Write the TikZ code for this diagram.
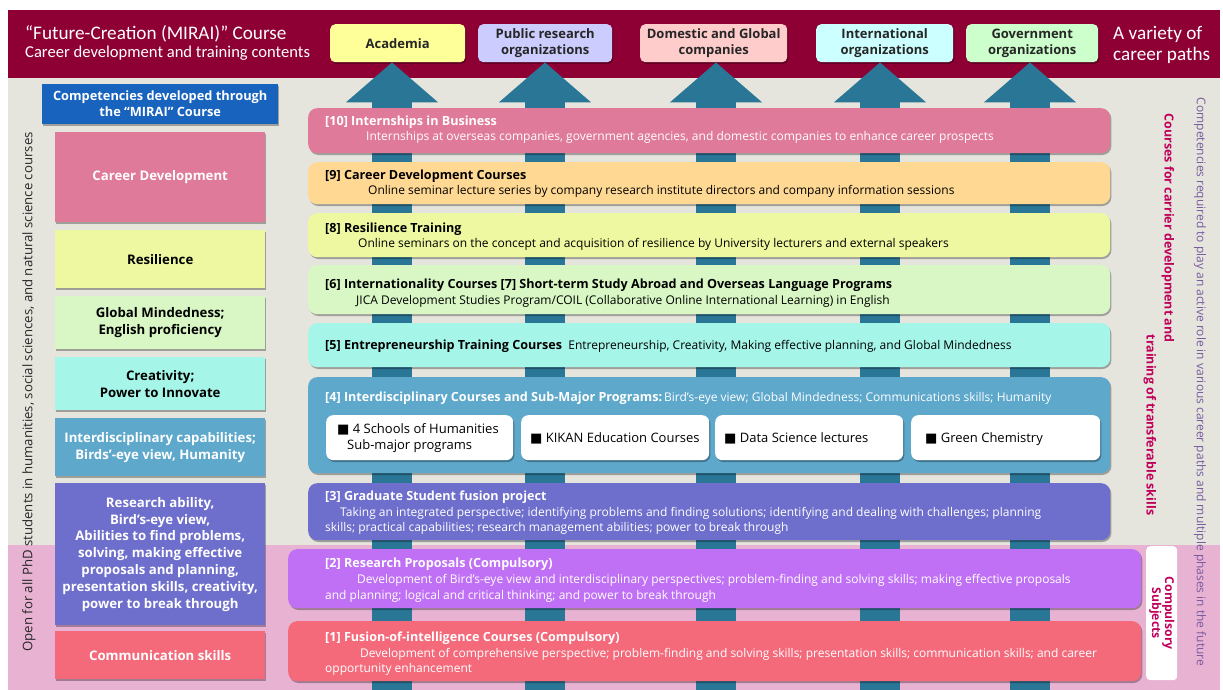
\documentclass[tikz,border=0pt]{standalone}
\usepackage{fontspec}
\setmainfont{Open Sans}
\newfontfamily\calfont{Carlito}
\newfontfamily\symfont{DejaVu Sans}
\usetikzlibrary{arrows.meta,shadows}
\definecolor{banner}{RGB}{142,0,52}
\definecolor{bggray}{RGB}{229,229,221}
\definecolor{bgpink}{RGB}{232,178,210}
\definecolor{arrowteal}{RGB}{42,118,150}
\definecolor{hdrblue}{RGB}{23,99,190}
\definecolor{cpink}{RGB}{224,122,154}
\definecolor{corange}{RGB}{255,217,147}
\definecolor{cyellow}{RGB}{238,248,160}
\definecolor{cgreen}{RGB}{216,247,196}
\definecolor{ccyan}{RGB}{165,245,232}
\definecolor{cblue}{RGB}{94,168,204}
\definecolor{cviolet}{RGB}{110,110,204}
\definecolor{cpurple}{RGB}{192,112,245}
\definecolor{cred}{RGB}{244,106,123}
\definecolor{kacad}{RGB}{255,255,153}
\definecolor{kpub}{RGB}{204,204,255}
\definecolor{kdom}{RGB}{255,204,204}
\definecolor{kint}{RGB}{204,255,255}
\definecolor{kgov}{RGB}{204,255,204}
\definecolor{magtext}{RGB}{192,0,90}
\definecolor{purtext}{RGB}{120,90,160}
\definecolor{darktext}{RGB}{40,40,40}
\newcommand\pbox[7]{\node[#6, anchor=north west, minimum width={(#4-#2)*1pt}, minimum height={(#5-#3)*1pt}, inner sep=0pt] (#1) at (#2,#3) {#7};}
\newcommand\sq{{\symfont\char"25A0}}
\begin{document}
\begin{tikzpicture}[x=1pt,y=-1pt,
  shad/.style={drop shadow={shadow xshift=1.2pt,shadow yshift=-1.8pt,opacity=0.3,fill=black}},
  career/.style={fill=#1, rounded corners=5pt, shad, font=\fontsize{13}{16}\selectfont\bfseries, text=black!85, align=center},
  leftbox/.style={fill=#1, shad, align=center, font=\fontsize{13.2}{16.8}\selectfont\bfseries},
  course/.style={fill=#1, rounded corners=9pt, shad},
  subbox/.style={fill=white, rounded corners=7pt, shad},
  ctext/.style={anchor=base west, inner sep=0pt, font=\fontsize{12}{14}\selectfont},
  chead/.style={anchor=base west, inner sep=0pt, font=\fontsize{12.6}{14}\selectfont\bfseries},
  stext/.style={anchor=base west, inner sep=0pt, font=\fontsize{13}{15}\selectfont},
  arr/.style={draw=arrowteal, line width=40pt, -{Triangle[length=40pt,width=90pt]}},
]
\useasboundingbox (0,0) rectangle (1223,690);
\fill[white] (0,0) rectangle (1223,690);
\fill[bggray] (8,78) rectangle (1220,545);
\fill[bgpink] (8,545) rectangle (1220,690);
\fill[banner] (8,10) rectangle (1220,78);

% banner texts
\node[anchor=base west, inner sep=0pt, text=white, font=\calfont\fontsize{19.2}{22}\selectfont] (title1) at (25,40) {“Future-Creation (MIRAI)” Course};
\node[anchor=base west, inner sep=0pt, text=white, font=\calfont\fontsize{16.6}{19}\selectfont] (title2) at (25,58) {Career development and training contents};
\node[anchor=base west, inner sep=0pt, text=white, font=\calfont\fontsize{19.2}{22}\selectfont] (var1) at (1113,40) {A variety of};
\node[anchor=base west, inner sep=0pt, text=white, font=\calfont\fontsize{19.2}{22}\selectfont] (var2) at (1113,61) {career paths};

% career boxes
\pbox{acad}{330}{24}{465}{62}{career=kacad}{Academia}
\pbox{pub}{478}{24}{612}{62}{career=kpub}{Public research\\organizations}
\pbox{dom}{640}{24}{787}{62}{career=kdom}{Domestic and Global\\companies}
\pbox{intl}{816}{24}{953}{62}{career=kint}{International\\organizations}
\pbox{gov}{966}{24}{1098}{62}{career=kgov}{Government\\organizations}

% arrows
\coordinate (a1) at (392,690);
\coordinate (a2) at (545,690);
\coordinate (a3) at (716,690);
\coordinate (a4) at (880,690);
\coordinate (a5) at (1030,690);
\draw[arr] (a1) -- (a1 |- acad.south);
\draw[arr] (a2) -- (a2 |- pub.south);
\draw[arr] (a3) -- (a3 |- dom.south);
\draw[arr] (a4) -- (a4 |- intl.south);
\draw[arr] (a5) -- (a5 |- gov.south);

% left column
\pbox{hdr}{42}{84}{278}{124}{fill=hdrblue, shad, align=center, text=white, font=\fontsize{12.8}{16}\selectfont\bfseries}{Competencies developed through\\the “MIRAI” Course}
\pbox{lcd}{55}{132}{265}{222}{leftbox=cpink, text=white}{Career Development}
\pbox{lres}{55}{230}{265}{288}{leftbox=cyellow, text=black}{Resilience}
\pbox{lglob}{55}{296}{265}{349}{leftbox=cgreen, text=black}{Global Mindedness;\\English proficiency}
\pbox{lcrea}{55}{357}{265}{410}{leftbox=ccyan, text=black}{Creativity;\\Power to Innovate}
\pbox{linter}{55}{418}{265}{476}{leftbox=cblue, text=white}{Interdisciplinary capabilities;\\Birds’-eye view, Humanity}
\pbox{lresch}{55}{483}{265}{625}{leftbox=cviolet, text=white}{Research ability,\\Bird’s-eye view,\\Abilities to find problems,\\solving, making effective\\proposals and planning,\\presentation skills, creativity,\\power to break through}
\pbox{lcomm}{55}{631}{265}{679}{leftbox=cred, text=white}{Communication skills}
\node[rotate=90, text=darktext, font=\fontsize{13.2}{15}\selectfont] (openall) at (29,392) {Open for all PhD students in humanities, social sciences, and natural science courses};

% course boxes
\pbox{c10}{308}{108}{1110}{153}{course=cpink}{}
\pbox{c9}{308}{162}{1110}{204}{course=corange}{}
\pbox{c8}{308}{213}{1110}{257}{course=cyellow}{}
\pbox{c6}{308}{265}{1110}{314}{course=cgreen}{}
\pbox{c5}{308}{323}{1110}{367}{course=ccyan}{}
\pbox{c4}{308}{377}{1110}{473}{course=cblue}{}
\pbox{c3}{308}{483}{1110}{540}{course=cviolet}{}
\pbox{c2}{288}{549}{1141}{608}{course=cpurple}{}
\pbox{c1}{288}{621}{1141}{681}{course=cred}{}

\pbox{s1}{326}{415}{513}{460}{subbox}{}
\pbox{s2}{521}{415}{709}{460}{subbox}{}
\pbox{s3}{715}{415}{903}{460}{subbox}{}
\pbox{s4}{911}{415}{1100}{460}{subbox}{}

% course texts
\node[chead, text=white] (t10h) at (325,125) {[10] Internships in Business};
\node[ctext, text=white] (t10d) at (366,140) {Internships at overseas companies, government agencies, and domestic companies to enhance career prospects};
\node[chead] (t9h) at (325,179) {[9] Career Development Courses};
\node[ctext] (t9d) at (368,194) {Online seminar lecture series by company research institute directors and company information sessions};
\node[chead] (t8h) at (325,232) {[8] Resilience Training};
\node[ctext] (t8d) at (358,247) {Online seminars on the concept and acquisition of resilience by University lecturers and external speakers};
\node[chead] (t6h) at (325,288) {[6] Internationality Courses [7] Short-term Study Abroad and Overseas Language Programs};
\node[ctext] (t6d) at (356,304) {JICA Development Studies Program/COIL (Collaborative Online International Learning) in English};
\node[ctext] (t5) at (325,349) {{\fontsize{12.6}{14}\selectfont\bfseries [5] Entrepreneurship Training Courses}\ \ Entrepreneurship, Creativity, Making effective planning, and Global Mindedness};
\node[ctext, text=white] (t4) at (325,401) {{\fontsize{12.6}{14}\selectfont\bfseries [4] Interdisciplinary Courses and Sub-Major Programs:}\,Bird’s-eye view; Global Mindedness; Communications skills; Humanity};
\node[stext] (s1a) at (337,433) {\sq\ 4 Schools of Humanities};
\node[stext] (s1b) at (347,449) {Sub-major programs};
\node[stext] (s2t) at (530,442) {\sq\ KIKAN Education Courses};
\node[stext] (s3t) at (724,442) {\sq\ Data Science lectures};
\node[stext] (s4t) at (925,442) {\sq\ Green Chemistry};
\node[chead, text=white] (t3h) at (325,500) {[3] Graduate Student fusion project};
\node[ctext, text=white] (t3d1) at (340,516) {Taking an integrated perspective; identifying problems and finding solutions; identifying and dealing with challenges; planning};
\node[ctext, text=white] (t3d2) at (325,531) {skills; practical capabilities; research management abilities; power to break through};
\node[chead, text=white] (t2h) at (325,567) {[2] Research Proposals (Compulsory)};
\node[ctext, text=white] (t2d1) at (357,583) {Development of Bird’s-eye view and interdisciplinary perspectives; problem-finding and solving skills; making effective proposals};
\node[ctext, text=white] (t2d2) at (325,599) {and planning; logical and critical thinking; and power to break through};
\node[chead, text=white] (t1h) at (325,641) {[1] Fusion-of-intelligence Courses (Compulsory)};
\node[ctext, text=white] (t1d1) at (360,657) {Development of comprehensive perspective; problem-finding and solving skills; presentation skills; communication skills; and career};
\node[ctext, text=white] (t1d2) at (325,672) {opportunity enhancement};

% right side
\node[rotate=-90, text=magtext, font=\fontsize{12.5}{14}\selectfont\bfseries] (crs1) at (1168,228) {Courses for carrier development and};
\node[rotate=-90, text=magtext, font=\fontsize{12.5}{14}\selectfont\bfseries] (crs2) at (1150,425) {training of transferable skills};
\node[rotate=-90, text=purtext, font=\fontsize{12}{14}\selectfont] (compreq) at (1200,382) {Competencies required to play an active role in various career paths and multiple phases in the future};
\pbox{compbox}{1146}{546}{1177}{680}{fill=white, rounded corners=4pt}{}
\node[rotate=-90, text=magtext, align=center, font=\fontsize{12.2}{13}\selectfont\bfseries] (comptext) at (compbox.center) {Compulsory\\Subjects};
\end{tikzpicture}
\end{document}
